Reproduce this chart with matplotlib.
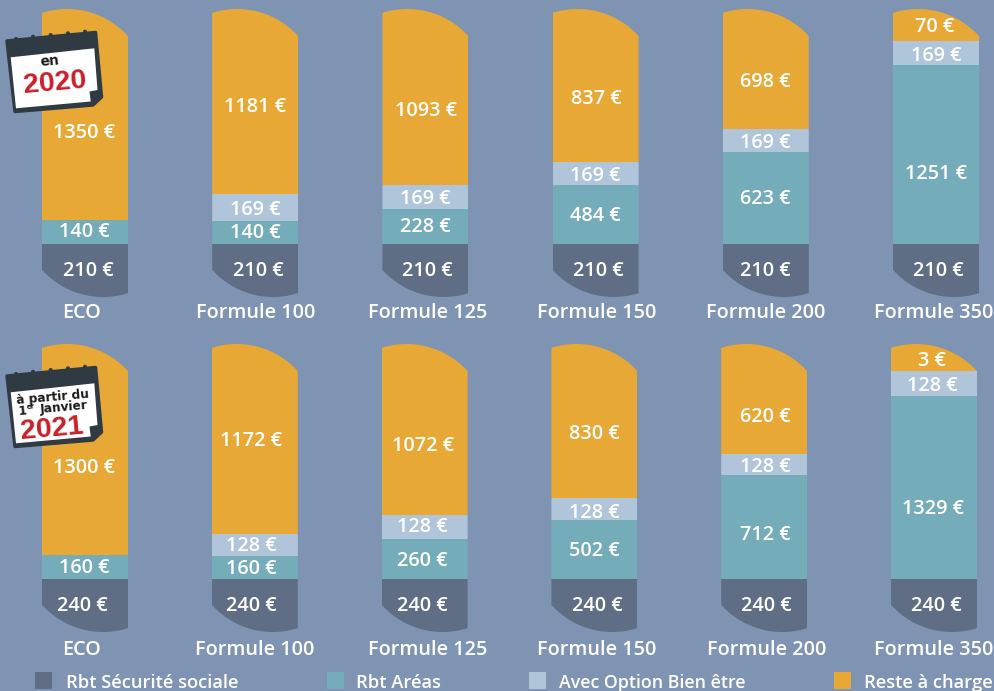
import numpy as np
import matplotlib
matplotlib.use("Agg")
import matplotlib.pyplot as plt
from matplotlib.path import Path
from matplotlib.patches import Polygon, Circle, Rectangle
from matplotlib.transforms import ScaledTranslation

W, H = 994, 691
BG = "#7f94b3"
plt.rcParams['font.family'] = ['Open Sans', 'DejaVu Sans']

categories = ["ECO", "Formule 100", "Formule 125", "Formule 150", "Formule 200", "Formule 350"]
series_names = ["Rbt Sécurité sociale", "Rbt Aréas", "Avec Option Bien être", "Reste à charge"]
colors = ["#5f6e85", "#75acba", "#b0c4da", "#e8a835"]

# amounts printed on the bars
secu_2020 = [210, 210, 210, 210, 210, 210]
areas_2020 = [140, 140, 228, 484, 623, 1251]
option_2020 = [0, 169, 169, 169, 169, 169]
reste_2020 = [1350, 1181, 1093, 837, 698, 70]
secu_2021 = [240, 240, 240, 240, 240, 240]
areas_2021 = [160, 160, 260, 502, 712, 1329]
option_2021 = [0, 128, 128, 128, 128, 128]
reste_2021 = [1300, 1172, 1072, 830, 620, 3]

# the original is not drawn to scale, so these are the bar heights as read
# off the picture, on an axis where a full bar is 1700 EUR
drawn_secu_2020 = [313, 313, 313, 313, 313, 313]
drawn_areas_2020 = [142, 136, 207, 348, 543, 1057]
drawn_option_2020 = [0, 159, 142, 136, 136, 139]
drawn_reste_2020 = [1245, 1092, 1038, 903, 708, 191]
drawn_secu_2021 = [313, 313, 313, 313, 313, 313]
drawn_areas_2021 = [142, 136, 236, 348, 614, 1080]
drawn_option_2021 = [0, 130, 142, 130, 124, 148]
drawn_reste_2021 = [1245, 1121, 1009, 909, 649, 159]

# label nudges in pixels, the labels are not centred in the original
dx_2020 = [[3, 3, 2, 3, 0, 2], [-1, 0, 0, 0, 0, 0], [0, 0, 0, 0, 0, 0], [-1, 0, 1, 1, 0, -1]]
dy_2020 = [[-2, -2, -2, -2, -2, -2], [-2, -2, -2, -1, -1, 17], [0, 0, 0, 0, 0, 0], [16, 3, 12, 11, 11, -1]]
dx_2021 = [[-3, -3, -2, 3, 2, 2], [-1, -3, -2, 0, 1, -1], [0, -3, -2, 0, 1, -2], [-1, -4, -2, 0, 1, -2]]
dy_2021 = [[-2, -2, -2, -2, -2, -2], [-1, -1, 0, -1, 6, 19], [0, -1, -2, 1, 0, 0], [16, 0, 14, 11, 16, 1]]
tick_dx_2020 = [-3, 0, 2, 1, 0, -2]
tick_dx_2021 = [-3, 0, 3, 2, 2, 0]


def add_row(fig, top, left0, step, drawn, values, dx, dy, tick_dx, tick_pad):
    # one axes per row, in euros upwards, 288 px tall, one x unit per column
    ax = fig.add_axes([0, 1 - (top + 288) / H, 1, 288 / H])
    ax.patch.set_alpha(0)
    first = left0 + 43
    ax.set_xlim(-first / step, (W - first) / step)
    ax.set_ylim(0, 1700)
    width = 86 / step

    # capsule outline, two arcs of the same circle
    px = np.arange(0, 87)
    top_px = 82 - np.sqrt(82**2 - (px - 25)**2)
    bot_px = 206 + np.sqrt(82**2 - (px - 61)**2)
    shape_x = np.r_[px, px[::-1]] / step
    shape_y = 1700 - np.r_[top_px, bot_px[::-1]] * 1700 / 288

    x = np.arange(len(categories))
    bottom = np.zeros(len(categories))
    for s in range(4):
        bars = ax.bar(x, drawn[s], width=width, bottom=bottom, color=colors[s], linewidth=0)
        for i, bar in enumerate(bars):
            verts = np.c_[shape_x + i - width / 2, shape_y]
            bar.set_clip_path(Path(np.r_[verts, verts[:1]], closed=True), ax.transData)
            if values[s][i] > 0:
                ax.annotate(f"{values[s][i]} €", (i, bottom[i] + drawn[s][i] / 2),
                            xytext=(dx[s][i] * 0.72, -dy[s][i] * 0.72), textcoords="offset points",
                            ha="center", va="center_baseline", color="white", fontsize=14.3, fontweight=600)
        bottom += np.array(drawn[s])

    ax.set_xticks(x, categories)
    ax.tick_params(axis="x", length=0, pad=tick_pad, labelsize=14.3, labelcolor="white")
    for i, lab in enumerate(ax.get_xticklabels()):
        lab.set_fontweight(600)
        lab.set_transform(lab.get_transform() + ScaledTranslation(tick_dx[i] / 100, 0, fig.dpi_scale_trans))
    ax.set_yticks([])
    for sp in ax.spines.values():
        sp.set_visible(False)
    return ax


def calendar(ov, dy):
    outer = [(7, 41), (95.5, 32.5), (101.5, 97), (93, 105), (15, 111.5)]
    page = [(10.7, 57.3), (94.3, 48.3), (97.5, 90), (89.5, 91.5), (90.7, 101.5), (16, 108.3)]
    ov.add_patch(Polygon([(a, b + dy) for a, b in outer], closed=True, fc="#2f3a42", ec="#2f3a42", lw=2.5, joinstyle="round"))
    ov.add_patch(Polygon([(a, b + dy) for a, b in page], closed=True, fc="white", ec="none"))
    for a, b in [(16, 39), (33, 36.7), (50.7, 35), (68, 33.3), (85, 31.7)]:
        ov.add_patch(Circle((a, b + dy), 2, fc="#2f3a42", ec="none"))


fig = plt.figure(figsize=(W / 100, H / 100), dpi=100, facecolor=BG)

add_row(fig, 9, 42, 170.2,
        [drawn_secu_2020, drawn_areas_2020, drawn_option_2020, drawn_reste_2020],
        [secu_2020, areas_2020, option_2020, reste_2020], dx_2020, dy_2020, tick_dx_2020, 4.2)
add_row(fig, 344, 42, 169.8,
        [drawn_secu_2021, drawn_areas_2021, drawn_option_2021, drawn_reste_2021],
        [secu_2021, areas_2021, option_2021, reste_2021], dx_2021, dy_2021, tick_dx_2021, 5.5)

# overlay in pixel coordinates for the calendars and the legend
ov = fig.add_axes([0, 0, 1, 1], zorder=5)
ov.set_xlim(0, W)
ov.set_ylim(H, 0)
ov.axis("off")

calendar(ov, 0)
calendar(ov, 335)
cal = dict(ha="center", va="center", rotation=5, rotation_mode="anchor", fontweight="bold")
ov.text(50, 61.5, "en", color="#1a1a1a", fontsize=10, family="DejaVu Sans", **cal)
ov.text(54.5, 83, "2020", color="#c8202a", fontsize=20.5, family="Liberation Sans", **cal)
ov.text(52.5, 397.5, "à partir du", color="#1a1a1a", fontsize=8.7, family="DejaVu Sans", **cal)
ov.text(64, 407, "Janvier", color="#1a1a1a", fontsize=8.7, family="DejaVu Sans", **cal)
ov.text(23, 411, "1", color="#1a1a1a", fontsize=8.7, family="DejaVu Sans", **cal)
ov.text(31, 407, "er", color="#1a1a1a", fontsize=5, family="DejaVu Sans", **cal)
ov.text(52, 429, "2021", color="#c8202a", fontsize=20.5, family="Liberation Sans", **cal)

legend_x = [35, 327, 529, 834]
text_x = [66, 356, 559, 864]
legend_size = [13.2, 13.2, 12.8, 13.2]
for s in range(4):
    ov.add_patch(Rectangle((legend_x[s], 672), 17, 17, fc=colors[s], ec="none"))
    ov.text(text_x[s], 683, series_names[s], color="white", fontsize=legend_size[s], fontweight=600, va="center", ha="left")

fig.savefig("out.png", dpi=100, facecolor=BG)
